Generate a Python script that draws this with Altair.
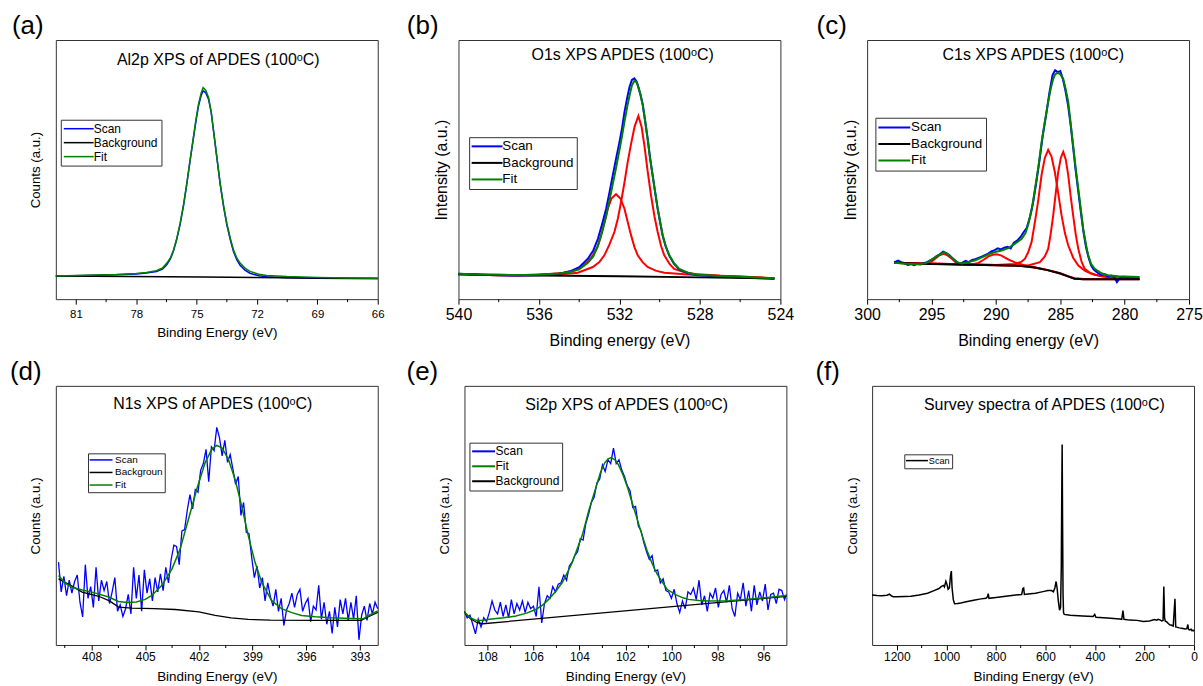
import altair as alt
import pandas as pd

FONT = "Liberation Sans, Arial, Helvetica, sans-serif"
W, H = 323, 260
BLUE, BLACK, GREEN, RED = "#0000ff", "#000000", "#008000", "#ff0000"
SUP_O = "\u1d52"

# ---------------- (a) Al2p ----------------
a_ev = [82.0, 81.0, 80.0, 79.0, 78.0, 77.5, 77.0, 76.7, 76.48, 76.3, 76.15, 76.0, 75.82, 75.65, 75.49,
        75.33, 75.16, 75.03, 74.91, 74.78, 74.68, 74.55, 74.41, 74.28, 74.16, 74.0, 73.83, 73.66, 73.5,
        73.33, 73.17, 73.0, 72.84, 72.6, 72.35, 71.9, 71.52, 70.5, 69.0, 67.5, 66.0]
a_fit = [8.9, 9.1, 9.3, 9.5, 9.9, 10.3, 11.0, 12.0, 13.9, 16.0, 19.0, 23.0, 29.2, 36.5, 44.6, 53.5, 62.5,
         69.5, 75.2, 79.5, 81.6, 80.6, 77.8, 72.5, 65.0, 55.0, 44.6, 36.0, 29.2, 23.5, 19.0, 15.8, 13.9,
         12.0, 10.7, 9.6, 9.1, 8.7, 8.4, 8.2, 8.1]
a_scan = [8.8, 9.0, 9.2, 9.4, 9.7, 10.1, 10.7, 11.6, 13.4, 15.6, 18.7, 22.8, 29.0, 36.3, 44.5, 53.3, 62.2,
          69.0, 74.5, 78.5, 80.4, 79.7, 77.2, 72.2, 64.8, 54.8, 44.3, 35.6, 28.7, 23.0, 18.4, 15.1, 13.1,
          11.2, 10.0, 9.0, 8.6, 8.3, 8.1, 8.0, 8.0]
a_bg_ev = [82.0, 74.7, 66.0]
a_bg = [8.9, 8.5, 8.0]

# ---------------- (b) O1s ----------------
b_ev = [540.0, 539.0, 538.0, 537.0, 536.0, 535.0, 534.4, 534.0, 533.57, 533.3, 533.07, 532.86, 532.66,
        532.5, 532.33, 532.16, 532.0, 531.87, 531.75, 531.62, 531.5, 531.38, 531.26, 531.15, 531.09,
        530.96, 530.84, 530.72, 530.6, 530.48, 530.35, 530.22, 530.1, 529.97, 529.85, 529.7, 529.52,
        529.3, 529.03, 528.6, 528.12, 527.0, 526.0, 525.0, 524.3]
b_fit = [9.8, 9.5, 9.4, 9.3, 9.4, 9.9, 10.6, 11.5, 14.0, 16.5, 20.5, 26.0, 32.0, 38.0, 44.5, 51.0, 57.5,
         63.0, 68.5, 74.0, 78.5, 82.5, 84.2, 83.7, 82.5, 79.0, 74.8, 68.5, 61.9, 54.5, 47.8, 41.0, 34.9,
         29.5, 24.6, 20.5, 16.9, 14.0, 11.7, 10.2, 9.4, 8.9, 8.6, 8.3, 8.1]
b_scan = [9.8, 9.4, 9.2, 9.1, 9.2, 9.8, 10.9, 12.3, 15.6, 18.8, 23.3, 29.0, 34.9, 41.0, 47.8, 54.5, 60.6,
          66.0, 72.2, 77.5, 81.9, 84.6, 85.2, 84.0, 82.7, 79.2, 75.0, 68.7, 62.0, 54.6, 47.8, 41.0, 34.9,
          29.4, 24.5, 20.3, 16.7, 13.8, 11.5, 10.0, 9.2, 8.7, 8.4, 8.1, 7.9]
b_bg_ev = [540.0, 536.0, 532.0, 528.0, 524.3]
b_bg = [9.6, 9.1, 8.8, 8.4, 8.0]
b_r1_ev = [540.0, 538.0, 537.0, 535.0, 534.07, 533.32, 533.0, 532.75, 532.5, 532.25, 532.08, 531.92,
           531.75, 531.59, 531.42, 531.25, 531.06, 530.9, 530.76, 530.6, 530.43, 530.26, 530.1, 529.93,
           529.77, 529.5, 529.28, 528.8, 528.28, 527.0, 525.5, 524.3]
b_r1 = [9.6, 9.2, 9.1, 9.5, 10.2, 12.4, 14.3, 16.9, 21.0, 25.9, 31.0, 37.5, 45.0, 52.9, 60.0, 66.5, 70.7,
        66.5, 59.3, 49.5, 40.0, 32.0, 25.9, 20.5, 16.9, 13.5, 11.7, 10.5, 9.7, 9.0, 8.5, 8.1]
b_r2_ev = [540.0, 538.0, 537.0, 535.5, 534.73, 534.3, 533.9, 533.6, 533.32, 533.1, 532.91, 532.75, 532.58,
           532.4, 532.17, 531.95, 531.75, 531.58, 531.42, 531.25, 531.09, 530.85, 530.6, 530.2, 529.77,
           528.6, 527.0, 525.5, 524.3]
b_r2 = [9.6, 9.2, 9.2, 9.7, 10.2, 11.0, 12.4, 14.3, 16.9, 20.0, 24.6, 29.5, 34.9, 38.8, 40.5, 38.8, 34.9,
        29.5, 24.6, 20.0, 16.9, 14.3, 12.4, 11.0, 10.2, 9.5, 9.0, 8.5, 8.1]

# ---------------- (c) C1s ----------------
c_fit_ev = [297.9, 297.0, 296.0, 295.5, 295.22, 294.7, 294.3, 294.06, 293.8, 293.42, 293.0, 292.65, 292.2,
            291.6, 291.0, 290.5, 290.0, 289.55, 289.0, 288.52, 288.0, 287.7, 287.48, 287.2, 286.96, 286.7,
            286.45, 286.2, 285.94, 285.75, 285.55, 285.4, 285.22, 285.0, 284.77, 284.58, 284.38, 284.2,
            284.0, 283.8, 283.6, 283.4, 283.22, 283.0, 282.83, 282.6, 282.32, 281.8, 281.29, 280.5, 279.5,
            278.84]
c_fit = [14.0, 13.7, 13.5, 13.8, 14.5, 16.2, 17.5, 18.0, 17.6, 16.0, 14.3, 13.8, 14.2, 15.0, 16.3, 17.5,
         18.3, 18.8, 19.8, 21.4, 23.3, 25.5, 29.0, 35.0, 42.6, 51.0, 60.6, 68.5, 76.0, 81.0, 85.0, 86.7,
         87.3, 86.8, 85.0, 81.0, 76.0, 68.0, 59.3, 50.5, 42.6, 34.5, 27.1, 21.0, 16.9, 13.5, 11.7, 10.0,
         9.2, 8.8, 8.6, 8.5]
c_scan_ev = [297.9, 297.6, 297.35, 297.1, 296.85, 296.6, 296.35, 296.1, 295.85, 295.6, 295.35, 295.1,
             294.85, 294.6, 294.35, 294.1, 293.85, 293.6, 293.35, 293.1, 292.85, 292.6, 292.35, 292.1,
             291.85, 291.6, 291.35, 291.1, 290.85, 290.6, 290.35, 290.1, 289.85, 289.6, 289.35, 289.1,
             288.85, 288.6, 288.35, 288.1, 287.85, 287.6, 287.35, 287.1, 286.85, 286.6, 286.35, 286.1,
             285.85, 285.6, 285.4, 285.2, 285.0, 284.8, 284.6, 284.4, 284.2, 284.0, 283.8, 283.6, 283.4,
             283.2, 283.0, 282.8, 282.6, 282.4, 282.2, 282.0, 281.8, 281.55, 281.3, 281.05, 280.8, 280.6,
             280.35, 280.1, 279.85, 279.6, 279.35, 279.1, 278.9]
c_scan = [14.2, 14.9, 14.3, 13.9, 13.2, 13.5, 13.1, 13.6, 13.4, 13.9, 14.3, 15.0, 15.6, 16.6, 17.3, 18.3,
          17.8, 16.9, 15.7, 14.6, 13.5, 14.1, 14.8, 14.3, 15.1, 15.4, 15.9, 16.4, 17.0, 17.6, 18.4, 18.9,
          19.6, 19.2, 19.9, 20.2, 19.6, 21.8, 22.6, 23.9, 25.8, 27.5, 31.8, 37.6, 45.5, 54.0, 63.5, 71.0,
          79.5, 86.5, 88.3, 87.6, 88.0, 85.0, 80.5, 75.0, 67.5, 58.5, 49.5, 41.5, 33.5, 26.0, 20.0, 16.0,
          13.0, 11.4, 10.6, 9.8, 9.3, 9.6, 8.7, 9.1, 8.4, 6.6, 8.3, 8.6, 8.0, 8.5, 8.2, 8.4, 8.1]
c_bg_ev = [297.9, 296.0, 293.0, 290.0, 288.0, 287.0, 286.0, 285.0, 284.4, 283.9, 283.2, 281.0, 278.84]
c_bg = [14.0, 13.7, 13.4, 13.1, 12.8, 12.2, 11.2, 9.9, 8.8, 7.9, 7.7, 7.7, 7.7]
c_ra_ev = [297.9, 290.0, 288.52, 288.0, 287.74, 287.5, 287.23, 286.96, 286.7, 286.45, 286.2, 285.94,
           285.68, 285.42, 285.15, 284.9, 284.64, 284.38, 284.0, 283.6, 283.1, 282.58, 281.8, 280.8, 278.84]
c_ra = [14.0, 13.2, 13.6, 14.5, 15.6, 18.0, 22.0, 30.0, 38.5, 48.0, 54.5, 57.6, 55.0, 49.0, 40.5, 32.3,
        25.5, 20.7, 16.0, 13.0, 11.0, 9.8, 8.8, 8.2, 8.0]
c_rb_ev = [297.9, 290.0, 287.5, 286.58, 286.2, 285.94, 285.75, 285.55, 285.35, 285.16, 284.96, 284.77,
           284.58, 284.38, 284.2, 284.0, 283.8, 283.6, 283.35, 283.1, 282.7, 282.32, 281.5, 280.8, 278.84]
c_rb = [14.0, 13.2, 13.0, 14.3, 16.5, 19.4, 25.0, 32.3, 41.0, 49.0, 54.5, 56.8, 54.0, 47.8, 40.0, 32.3,
        25.0, 19.4, 14.5, 11.7, 10.2, 9.4, 8.6, 8.1, 7.9]
c_s1_ev = [297.9, 296.5, 295.5, 295.22, 294.95, 294.7, 294.4, 294.06, 293.75, 293.42, 293.15, 292.9, 292.4,
           290.0, 288.0, 287.0, 286.0, 285.0, 284.4, 283.9, 283.2, 278.84]
c_s1 = [14.0, 13.7, 13.6, 13.8, 14.6, 15.7, 16.9, 17.5, 16.9, 15.6, 14.4, 13.7, 13.4, 13.1, 12.8, 12.2,
        11.2, 9.9, 8.8, 8.0, 7.7, 7.7]
c_s2_ev = [297.9, 293.0, 292.0, 291.35, 290.95, 290.58, 290.25, 289.94, 289.6, 289.29, 288.9, 288.52,
           287.74, 287.0, 286.0, 285.0, 284.4, 283.9, 283.2, 278.84]
c_s2 = [14.0, 13.4, 13.3, 14.0, 15.2, 16.5, 17.1, 17.3, 16.9, 16.0, 15.0, 14.2, 13.0, 12.3, 11.3, 10.0,
        8.9, 8.1, 7.8, 7.8]

# ---------------- (d) N1s ----------------
d_fit_ev = [409.85, 409.46, 409.09, 408.53, 407.97, 407.04, 406.5, 406.0, 405.5, 405.0, 404.63, 404.07,
            403.51, 403.05, 402.58, 402.12, 401.65, 401.28, 401.0, 400.72, 400.35, 399.98, 399.61, 399.24,
            398.86, 398.49, 397.94, 397.38, 396.8, 396.26, 395.5, 394.59, 393.5, 392.82, 392.55, 392.0]
d_fit = [26.8, 23.8, 22.3, 21.2, 20.4, 18.5, 16.8, 16.4, 16.6, 17.6, 19.1, 23.0, 29.3, 37.0, 48.6, 60.1,
         70.4, 75.5, 77.0, 76.2, 71.7, 64.0, 53.7, 42.2, 31.9, 24.2, 17.2, 14.0, 12.5, 11.4, 10.9, 10.5,
         10.2, 10.1, 11.2, 13.2]
d_bg_ev = [409.85, 409.09, 408.53, 407.6, 407.0, 406.49, 405.75, 404.5, 403.32, 402.0, 401.09, 400.2,
           399.24, 398.0, 395.52, 392.92, 392.55, 392.0]
d_bg = [25.5, 22.7, 20.4, 18.8, 17.0, 14.6, 14.2, 14.0, 13.7, 12.8, 11.4, 10.5, 9.9, 9.6, 9.5, 9.5, 10.8,
        12.6]
d_scan_ev = [409.85, 409.7, 409.55, 409.4, 409.25, 409.1, 408.95, 408.8, 408.65, 408.5, 408.35, 408.2,
             408.05, 407.9, 407.75, 407.6, 407.45, 407.3, 407.15, 407.0, 406.85, 406.7, 406.55, 406.4,
             406.25, 406.1, 405.95, 405.8, 405.65, 405.5, 405.35, 405.2, 405.05, 404.9, 404.75, 404.6,
             404.45, 404.3, 404.15, 404.0, 403.85, 403.7, 403.55, 403.4, 403.25, 403.1, 402.95, 402.8,
             402.65, 402.5, 402.35, 402.2, 402.05, 401.9, 401.75, 401.6, 401.45, 401.3, 401.15, 401.0,
             400.85, 400.7, 400.55, 400.4, 400.25, 400.1, 399.95, 399.8, 399.65, 399.5, 399.35, 399.2,
             399.05, 398.9, 398.75, 398.6, 398.45, 398.3, 398.15, 398.0, 397.85, 397.7, 397.55, 397.4,
             397.25, 397.1, 396.95, 396.8, 396.65, 396.5, 396.35, 396.2, 396.05, 395.9, 395.75, 395.6,
             395.45, 395.3, 395.15, 395.0, 394.85, 394.7, 394.55, 394.4, 394.25, 394.1, 393.95, 393.8,
             393.65, 393.5, 393.35, 393.2, 393.05, 392.9, 392.75, 392.6, 392.45, 392.3, 392.15, 392.0]
d_scan = [32.0, 20.5, 26.5, 19.0, 25.0, 20.0, 24.5, 27.0, 16.5, 10.8,
          31.0, 18.0, 22.5, 14.5, 30.0, 17.0, 25.0, 21.0, 24.5, 16.0,
          20.5, 26.0, 13.0, 15.5, 11.0, 14.0, 19.5, 12.0, 30.0, 18.0,
          27.0, 13.0, 29.0, 20.0, 25.5, 17.0, 26.0, 20.5, 27.5, 21.0,
          30.0, 24.0, 33.0, 38.5, 38.0, 31.0, 44.0, 44.5, 52.0, 58.0,
          52.5, 60.0, 59.0, 67.5, 70.0, 75.5, 63.0, 76.5, 75.0, 84.0,
          80.0, 73.0, 79.0, 70.5, 73.5, 68.0, 62.0, 65.0, 50.0, 55.0,
          43.5, 43.0, 34.0, 26.0, 30.5, 22.0, 26.0, 17.0, 24.0, 18.5,
          15.0, 21.5, 13.0, 18.0, 7.5, 13.5, 16.0, 20.0, 14.5, 19.5,
          21.5, 13.0, 16.0, 18.0, 9.0, 15.0, 13.5, 23.0, 10.0, 16.5,
          8.0, 13.0, 4.5, 14.5, 7.0, 17.5, 12.0, 18.0, 9.5, 16.5,
          10.0, 19.0, 2.0, 11.5, 15.0, 9.5, 16.0, 12.0, 16.5, 14.0]

# ---------------- (e) Si2p ----------------
e_fit_ev = [109.0, 108.75, 108.49, 108.2, 107.92, 107.3, 106.76, 106.3, 105.9, 105.6, 105.32, 105.0,
            104.74, 104.5, 104.31, 104.1, 103.87, 103.59, 103.3, 103.09, 102.9, 102.75, 102.62, 102.45,
            102.3, 102.1, 101.93, 101.71, 101.49, 101.28, 101.06, 100.84, 100.63, 100.41, 100.19, 99.84,
            99.5, 99.26, 98.8, 98.39, 97.5, 96.3, 95.5, 95.0]
e_fit = [12.7, 10.5, 9.5, 9.5, 9.9, 10.5, 11.2, 12.3, 13.7, 15.4, 17.8, 21.0, 24.2, 28.3, 31.9, 37.0, 42.5,
         52.0, 60.3, 66.5, 70.3, 71.8, 72.3, 71.4, 69.5, 65.5, 61.4, 55.0, 48.6, 42.5, 36.5, 31.5, 27.5,
         24.5, 21.5, 19.5, 18.2, 17.6, 17.2, 17.0, 17.1, 17.9, 18.6, 19.1]
e_bg_ev = [109.0, 108.75, 108.45, 108.2, 95.0]
e_bg = [12.7, 10.2, 8.6, 8.2, 18.8]
e_scan_ev = [109.0, 108.88, 108.76, 108.64, 108.52, 108.4, 108.28, 108.16, 108.04, 107.92, 107.8, 107.68,
             107.56, 107.44, 107.32, 107.2, 107.08, 106.96, 106.84, 106.72, 106.6, 106.48, 106.36, 106.24,
             106.12, 106.0, 105.88, 105.76, 105.64, 105.52, 105.4, 105.28, 105.16, 105.04, 104.92, 104.8,
             104.68, 104.56, 104.44, 104.32, 104.2, 104.08, 103.96, 103.84, 103.72, 103.6, 103.48, 103.36,
             103.24, 103.12, 103.0, 102.88, 102.76, 102.64, 102.52, 102.4, 102.28, 102.16, 102.04, 101.92,
             101.8, 101.68, 101.56, 101.44, 101.32, 101.2, 101.08, 100.96, 100.84, 100.72, 100.6, 100.48,
             100.36, 100.24, 100.12, 100.0, 99.88, 99.76, 99.64, 99.52, 99.4, 99.28, 99.16, 99.04, 98.92,
             98.8, 98.68, 98.56, 98.44, 98.32, 98.2, 98.08, 97.96, 97.84, 97.72, 97.6, 97.48, 97.36, 97.24,
             97.12, 97.0, 96.88, 96.76, 96.64, 96.52, 96.4, 96.28, 96.16, 96.04, 95.92, 95.8, 95.68, 95.56,
             95.44, 95.32, 95.2, 95.08, 95.0]
e_scan = [13.0, 10.5, 11.5, 8.0, 4.3, 10.0, 7.0, 10.5, 9.0, 12.5,
          17.0, 13.5, 12.0, 16.5, 11.0, 15.5, 10.5, 17.5, 12.0, 16.0,
          13.5, 17.0, 12.5, 16.5, 14.0, 15.0, 11.0, 22.5, 8.5, 16.0,
          19.0, 18.0, 22.5, 20.5, 23.5, 24.0, 27.0, 25.0, 30.5, 32.0,
          34.5, 36.0, 41.0, 40.5, 47.0, 50.5, 55.0, 57.0, 62.5, 64.0,
          69.5, 67.0, 71.5, 70.0, 76.0, 70.0, 71.5, 67.5, 65.0, 61.5,
          59.5, 53.0, 53.5, 46.0, 44.0, 39.5, 36.0, 33.0, 34.5, 28.5,
          29.0, 24.0, 25.5, 21.0, 20.5, 18.0, 21.5, 16.0, 12.5, 17.0,
          14.0, 20.5, 19.5, 22.0, 17.5, 25.0, 15.5, 19.0, 13.0, 20.0,
          18.0, 22.0, 14.5, 19.5, 21.0, 16.5, 23.0, 14.0, 11.0, 20.0,
          17.5, 24.0, 15.0, 21.0, 13.0, 23.0, 15.5, 20.5, 17.0, 23.5,
          13.5, 19.5, 20.0, 16.0, 21.5, 21.0, 17.5, 19.5]

# ---------------- (f) Survey ----------------
f_ev = [1300, 1280, 1260, 1240, 1230, 1222, 1215, 1200, 1170, 1143, 1110, 1076, 1050, 1030, 1020, 1012,
        1008, 1002, 998, 993, 988, 983, 980, 977, 972, 967, 955, 942, 920, 890, 860, 840, 834, 831, 828,
        800, 760, 720, 696, 691, 688, 685, 670, 640, 610, 590, 575, 568, 562, 557, 553, 548, 543, 539,
        536, 534, 532.5, 531, 529, 527, 524, 500, 450, 407, 401, 396, 350, 300, 292, 287, 283, 260, 230,
        205, 180, 160, 150, 145, 138, 130, 125, 122, 119, 116, 110, 104, 98, 90, 84, 77, 74, 70, 60, 45,
        35, 29, 25, 22, 17, 12, 8, 4, 0]
f_scan = [19.3, 19.1, 19.0, 19.2, 19.6, 19.0, 18.6, 18.6, 18.7, 18.8, 19.3, 20.0, 21.0, 21.8, 22.6, 23.0,
          22.4, 24.6, 23.5, 21.5, 22.0, 27.0, 28.5, 22.0, 17.5, 15.9, 16.0, 16.2, 16.7, 17.3, 17.8, 18.0,
          18.6, 19.8, 18.0, 18.3, 18.8, 19.3, 19.5, 21.8, 22.0, 19.5, 19.7, 20.0, 20.6, 21.0, 21.0, 20.5,
          22.0, 24.5, 22.0, 17.0, 13.4, 14.5, 30.0, 60.0, 77.4, 50.0, 20.0, 12.5, 11.8, 11.5, 11.2, 11.0,
          11.8, 10.7, 10.4, 10.0, 9.9, 13.3, 9.9, 9.6, 9.5, 9.1, 9.3, 9.8, 9.6, 9.9, 9.7, 9.3, 9.5, 22.6,
          10.5, 9.2, 8.9, 8.3, 7.8, 7.6, 7.3, 17.8, 7.0, 6.9, 6.6, 6.4, 6.2, 6.3, 7.9, 6.0, 5.8, 6.1, 5.5,
          5.7, 5.3]

# axis ticks
a_major, a_minor = [81, 78, 75, 72, 69, 66], [79.5, 76.5, 73.5, 70.5, 67.5]
b_major, b_minor = [540, 536, 532, 528, 524], [538, 534, 530, 526]
c_major, c_minor = [300, 295, 290, 285, 280, 275], [297.5, 292.5, 287.5, 282.5, 277.5]
d_major, d_minor = [408, 405, 402, 399, 396, 393], [409.5, 406.5, 403.5, 400.5, 397.5, 394.5]
e_major, e_minor = [108, 106, 104, 102, 100, 98, 96], [107, 105, 103, 101, 99, 97]
f_major, f_minor = [1200, 1000, 800, 600, 400, 200, 0], [1100, 900, 700, 500, 300, 100]


def sdf(ev, val, name):
    if len(ev) != len(val):
        raise ValueError(f"length mismatch in {name}: {len(ev)} vs {len(val)}")
    return pd.DataFrame({"eV": ev, "val": val, "series": name})


def make_legend(lg):
    # short horizontal line symbol whose length is independent of the row height
    q = 4.0
    k = lg["L"] / q
    kw = dict(title=None, orient="none", legendX=lg["x"], legendY=lg["y"], direction="vertical",
              symbolType=f"M-{k:.3f},0H{k:.3f}", symbolSize=q * q, symbolStrokeWidth=lg["sw"],
              symbolOffset=lg["L"] / 2 - lg["fs"] / 2,
              labelOffset=lg["L"] + lg["gap"] - lg["fs"] - lg["adj"],
              labelFontSize=lg["fs"], labelFont=FONT, labelColor="black", strokeColor="#333333",
              fillColor="white", padding=lg["pad"], rowPadding=lg["rp"], cornerRadius=0, labelLimit=300)
    if "expr" in lg:
        kw["labelExpr"] = lg["expr"]
    return alt.Legend(**kw)


def make_panel(p):
    xs = alt.X("eV:Q",
               scale=alt.Scale(domain=p["xdom"], reverse=True, nice=False, zero=False),
               axis=alt.Axis(title=p["xtitle"], values=p["major"], format="d", labelFlush=False,
                             labelOverlap=False, tickSize=5, labelPadding=p["lpad"],
                             titlePadding=p["tpad"], labelFontSize=p["lfs"], titleFontSize=p["tfs"],
                             domain=False, grid=False))
    ys = alt.Y("val:Q",
               scale=alt.Scale(domain=[0, 100], nice=False, zero=False),
               axis=alt.Axis(title=p["ytitle"], labels=False, ticks=False, domain=False, grid=False,
                             minExtent=0, titlePadding=p["ypad"], titleFontSize=p["ytfs"]))
    cs = alt.Color("series:N",
                   scale=alt.Scale(domain=[s[0] for s in p["legend_order"]],
                                   range=[s[1] for s in p["legend_order"]]),
                   legend=make_legend(p["legend"]))
    layers = []
    if p.get("red"):
        frames = []
        for i, (ev, val) in enumerate(p["red"]):
            df = sdf(ev, val, "red")
            df["peak"] = i
            frames.append(df)
        layers.append(alt.Chart(pd.concat(frames)).mark_line(color=RED, strokeWidth=p["sw"])
                      .encode(x=xs, y=ys, detail="peak:N"))
    for name, ev, val, sw in p["draw"]:
        layers.append(alt.Chart(sdf(ev, val, name)).mark_line(strokeWidth=sw)
                      .encode(x=xs, y=ys, color=cs))
    layers.append(alt.Chart(pd.DataFrame({"eV": p["minor"]})).mark_rule(color="black", strokeWidth=1)
                  .encode(x=xs, y=alt.value(H), y2=alt.value(H + 3)))
    layers.append(alt.Chart(pd.DataFrame({"t": [p["inner"]]}))
                  .mark_text(font=FONT, fontSize=16, color="black", align="center", baseline="alphabetic")
                  .encode(x=alt.value(p["ix"]), y=alt.value(p["iy"]), text="t:N"))
    return alt.layer(*layers).properties(
        width=W, height=H,
        title=alt.TitleParams(text=p["label"], anchor="start", frame="group", dx=p["dx"], offset=1,
                              fontSize=26, font=FONT, fontWeight="normal", color="black"))


STD3 = [("Scan", BLUE), ("Background", BLACK), ("Fit", GREEN)]

pa = make_panel(dict(
    xdom=[66, 82], major=a_major, minor=a_minor, xtitle="Binding Energy (eV)", ytitle="Counts (a.u.)",
    lpad=4, tpad=5.5, lfs=11.5, tfs=13.5, ypad=13.5, ytfs=13.3, sw=1.5,
    legend=dict(x=5, y=80, L=30, sw=1.5, fs=12, gap=1, adj=10, pad=3, rp=2), legend_order=STD3,
    draw=[("Scan", a_ev, a_scan, 1.5), ("Background", a_bg_ev, a_bg, 1.5), ("Fit", a_ev, a_fit, 1.5)],
    inner=f"Al2p XPS of APDES (100{SUP_O}C)", ix=163, iy=25, label="(a)", dx=-44))

pb = make_panel(dict(
    xdom=[524, 540], major=b_major, minor=b_minor, xtitle="Binding energy (eV)", ytitle="Intensity (a.u.)",
    lpad=2.3, tpad=10, lfs=16, tfs=16, ypad=9, ytfs=16, sw=2,
    legend=dict(x=10.7, y=97.5, L=31, sw=2, fs=13.4, gap=3, adj=12, pad=2.5, rp=1.6), legend_order=STD3,
    red=[(b_r1_ev, b_r1), (b_r2_ev, b_r2)],
    draw=[("Scan", b_ev, b_scan, 2), ("Background", b_bg_ev, b_bg, 2), ("Fit", b_ev, b_fit, 2)],
    inner=f"O1s XPS APDES (100{SUP_O}C)", ix=164.7, iy=20, label="(b)", dx=-51.8))

pc = make_panel(dict(
    xdom=[275, 300], major=c_major, minor=c_minor, xtitle="Binding energy (eV)", ytitle="Intensity (a.u.)",
    lpad=2.3, tpad=10, lfs=16, tfs=16, ypad=9, ytfs=16, sw=2,
    legend=dict(x=8.3, y=78, L=32, sw=2, fs=13.4, gap=4, adj=12.5, pad=3, rp=1.6), legend_order=STD3,
    red=[(c_ra_ev, c_ra), (c_rb_ev, c_rb), (c_s1_ev, c_s1), (c_s2_ev, c_s2)],
    draw=[("Scan", c_scan_ev, c_scan, 2), ("Background", c_bg_ev, c_bg, 2), ("Fit", c_fit_ev, c_fit, 2)],
    inner=f"C1s XPS APDES (100{SUP_O}C)", ix=166.7, iy=20, label="(c)", dx=-50.7))

pd_ = make_panel(dict(
    xdom=[392, 410], major=d_major, minor=d_minor, xtitle="Binding Energy (eV)", ytitle="Counts (a.u.)",
    lpad=2, tpad=7, lfs=12, tfs=13.5, ypad=13.5, ytfs=13.4, sw=1.5,
    legend=dict(x=32.3, y=67.7, L=23, sw=1.5, fs=10, gap=2, adj=6, pad=1.6, rp=2.6,
                expr="datum.label == 'Background' ? 'Backgroun' : datum.label"), legend_order=STD3,
    draw=[("Scan", d_scan_ev, d_scan, 1.3), ("Background", d_bg_ev, d_bg, 1.3), ("Fit", d_fit_ev, d_fit, 1.5)],
    inner=f"N1s XPS of APDES (100{SUP_O}C)", ix=157.5, iy=23, label="(d)", dx=-46))

pe = make_panel(dict(
    xdom=[95, 109], major=e_major, minor=e_minor, xtitle="Binding Energy (eV)", ytitle="Counts (a.u.)",
    lpad=2, tpad=7, lfs=12, tfs=13.5, ypad=13.5, ytfs=13.4, sw=1.5,
    legend=dict(x=5, y=57, L=23, sw=2, fs=12, gap=3, adj=8, pad=2.7, rp=3),
    legend_order=[("Scan", BLUE), ("Fit", GREEN), ("Background", BLACK)],
    draw=[("Scan", e_scan_ev, e_scan, 1.3), ("Background", e_bg_ev, e_bg, 1.3), ("Fit", e_fit_ev, e_fit, 1.5)],
    inner=f"Si2p XPS of APDES (100{SUP_O}C)", ix=162.7, iy=24, label="(e)", dx=-58.1))

pf = make_panel(dict(
    xdom=[0, 1300], major=f_major, minor=f_minor, xtitle="Binding Energy (eV)", ytitle="Counts (a.u.)",
    lpad=2, tpad=7, lfs=12, tfs=13.5, ypad=12.7, ytfs=13.4, sw=1.5,
    legend=dict(x=32.3, y=68.7, L=22, sw=1.5, fs=9.2, gap=2, adj=7.5, pad=1.7, rp=0),
    legend_order=[("Scan", BLACK)],
    draw=[("Scan", f_ev, f_scan, 1.5)],
    inner=f"Survey spectra of APDES (100{SUP_O}C)", ix=172.8, iy=24, label="(f)", dx=-56.8))

row1 = alt.hconcat(pa, pb, pc, spacing=21).resolve_scale(x="independent", y="independent", color="independent")
row2 = alt.hconcat(pd_, pe, pf, spacing=24).resolve_scale(x="independent", y="independent", color="independent")

chart = (alt.vconcat(row1, row2, spacing=9)
         .resolve_scale(x="independent", y="independent", color="independent")
         .properties(padding={"left": 9, "top": 11, "right": 0, "bottom": 0})
         .configure(font=FONT)
         .configure_view(stroke="#333333", strokeWidth=1)
         .configure_axis(grid=False, tickColor="black", labelColor="black", titleColor="black",
                         labelFont=FONT, titleFont=FONT, titleFontWeight="normal", tickWidth=1)
         .configure_legend(labelFont=FONT))

chart.save("out.html", embed_options={"renderer": "svg", "actions": False})
